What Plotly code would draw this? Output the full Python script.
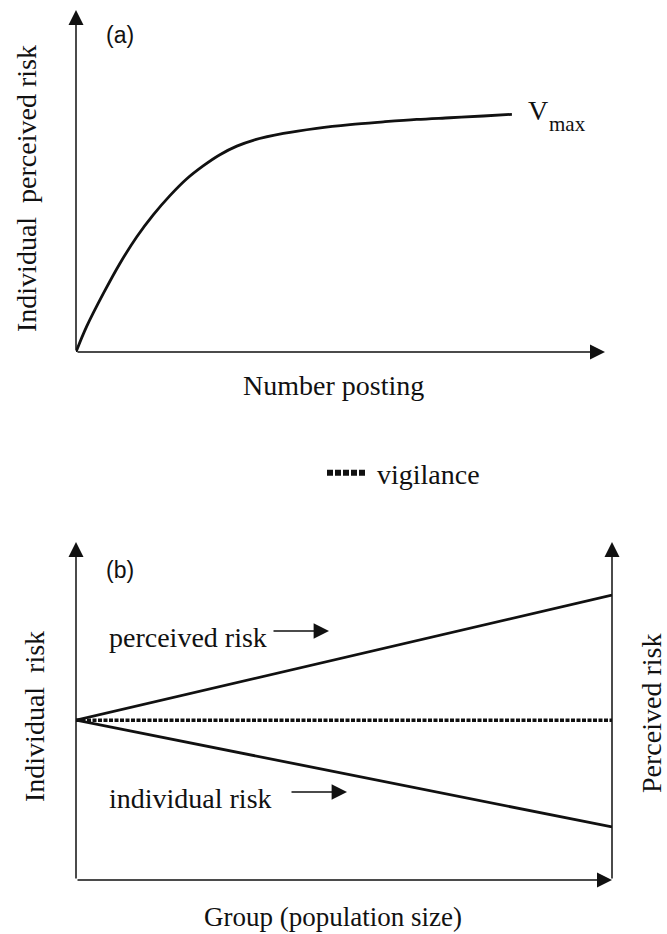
import plotly.graph_objects as go

W, H = 667, 934

# ---- data ----
# panel (a): number posting vs individual perceived risk (arbitrary units)
posting_x = [0.0, 0.20, 0.52, 0.83, 1.15, 1.46, 1.78, 2.09, 2.41, 2.72, 3.04, 3.35,
             3.92, 4.55, 5.18, 5.81, 6.44, 7.07, 7.70, 8.24]
perceived_y = [0.0, 0.74, 1.72, 2.59, 3.37, 4.01, 4.58, 5.06, 5.45, 5.77, 6.02, 6.19,
               6.39, 6.54, 6.65, 6.73, 6.80, 6.85, 6.90, 6.95]

# panel (b): group size vs risks (arbitrary units)
group_x = [0.0, 10.0]
perceived_risk_b = [4.73, 8.43]
individual_risk_b = [4.73, 1.57]
vigilance_b = [4.73, 4.73]

SERIF = "Liberation Serif"
SANS = "Liberation Sans"
INK = "#111111"
FS = 28


def px(x):
    return x / W


def py(y):
    return 1 - y / H


fig = go.Figure()

# panel (a) curve
fig.add_trace(go.Scatter(x=posting_x, y=perceived_y, mode="lines",
                         line=dict(color=INK, width=2.8, shape="spline", smoothing=1.0),
                         xaxis="x", yaxis="y", showlegend=False, cliponaxis=False,
                         hoverinfo="skip"))

# panel (b) lines
fig.add_trace(go.Scatter(x=group_x, y=perceived_risk_b, mode="lines",
                         line=dict(color=INK, width=2.8), xaxis="x2", yaxis="y2",
                         showlegend=False, cliponaxis=False, hoverinfo="skip"))
fig.add_trace(go.Scatter(x=group_x, y=individual_risk_b, mode="lines",
                         line=dict(color=INK, width=2.8), xaxis="x2", yaxis="y2",
                         showlegend=False, cliponaxis=False, hoverinfo="skip"))
fig.add_trace(go.Scatter(x=group_x, y=vigilance_b, mode="lines",
                         line=dict(color=INK, width=3.5, dash="4px,1.5px"), xaxis="x2", yaxis="y2",
                         showlegend=False, cliponaxis=False, hoverinfo="skip"))
# legend entry for vigilance
fig.add_trace(go.Scatter(x=[None], y=[None], mode="lines", name="\u00a0vigilance",
                         line=dict(color=INK, width=6, dash="6px,2px"),
                         xaxis="x2", yaxis="y2", showlegend=True))

axis_common = dict(showgrid=False, zeroline=False, showticklabels=False,
                   showline=False, ticks="", fixedrange=True)

fig.update_layout(
    width=W, height=H,
    margin=dict(l=0, r=0, t=0, b=0),
    paper_bgcolor="white", plot_bgcolor="white",
    xaxis=dict(domain=[px(76), px(605)], range=[0, 10], anchor="y", **axis_common),
    yaxis=dict(domain=[py(352), py(10)], range=[0, 10], anchor="x", **axis_common),
    xaxis2=dict(domain=[px(76), px(612)], range=[0, 10], anchor="y2", **axis_common),
    yaxis2=dict(domain=[py(880), py(542)], range=[0, 10], anchor="x2", **axis_common),
    showlegend=True,
    legend=dict(x=px(322), y=py(473), xanchor="left", yanchor="middle",
                font=dict(family=SERIF, size=FS, color=INK),
                bgcolor="rgba(0,0,0,0)", itemwidth=38),
)

ann = []
# axis arrows (tip at x/y, tail at ax/ay)
HEAD = dict(showarrow=True, arrowhead=2, arrowsize=2, arrowwidth=1.5,
            arrowcolor=INK, text="", standoff=0)
ann.append(dict(x=10, y=0, ax=0, ay=0, xref="x", yref="y", axref="x", ayref="y", **HEAD))
ann.append(dict(x=0, y=10, ax=0, ay=0, xref="x", yref="y", axref="x", ayref="y", **HEAD))
ann.append(dict(x=10, y=0, ax=0, ay=0, xref="x2", yref="y2", axref="x2", ayref="y2", **HEAD))
ann.append(dict(x=0, y=10, ax=0, ay=0, xref="x2", yref="y2", axref="x2", ayref="y2", **HEAD))
ann.append(dict(x=10, y=10, ax=10, ay=0, xref="x2", yref="y2", axref="x2", ayref="y2", **HEAD))

# small label arrows in panel (b)
SMALL = dict(showarrow=True, arrowhead=2, arrowsize=2.2, arrowwidth=1.4,
             arrowcolor=INK, text="", standoff=0, xref="paper", yref="paper",
             axref="pixel", ayref="pixel")
ann.append(dict(x=px(329), y=py(631), ax=-57, ay=0, **SMALL))
ann.append(dict(x=px(347), y=py(792), ax=-57, ay=0, **SMALL))


def text(t, x, y, size=FS, family=SERIF, angle=0, xanchor="center"):
    ann.append(dict(text=t, x=px(x), y=py(y), xref="paper", yref="paper",
                    showarrow=False, xanchor=xanchor, yanchor="middle",
                    textangle=angle, font=dict(family=family, size=size, color=INK)))


text("(a)", 120, 35, size=23, family=SANS)
text("(b)", 120, 570, size=23, family=SANS)
text("V", 526, 110, size=FS, xanchor="left")
text("max", 547, 124, size=21, xanchor="left")
text("Individual\u00a0 perceived risk", 27, 189, angle=-90)
text("Number posting", 333, 385)
text("Individual\u00a0 risk", 34, 717, angle=-90)
text("Perceived risk", 651, 714, angle=-90)
text("Group (population size)", 333, 917, size=27)
text("perceived risk", 107, 637, xanchor="left")
text("individual risk", 107, 798, xanchor="left")

fig.update_layout(annotations=ann)

fig.write_html("out.html", config={"displayModeBar": False},
               post_script="document.body.style.margin='0';")
